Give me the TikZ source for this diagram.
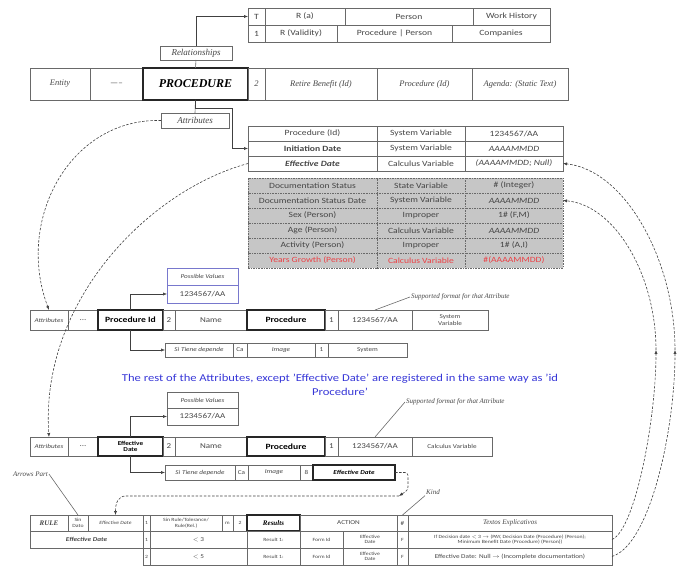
\documentclass[tikz,border=0pt]{standalone}
\usepackage{fontspec}
\setmainfont{Carlito}[FakeStretch=1.2]
\newfontfamily\serifface{Liberation Serif}
\usetikzlibrary{arrows.meta, positioning, calc}
\definecolor{linegray}{RGB}{105,105,105}
\definecolor{textgray}{RGB}{70,70,70}
\definecolor{cellgray}{RGB}{198,198,198}
\definecolor{pvblue}{RGB}{120,120,205}
\definecolor{noteblue}{RGB}{55,55,215}
\definecolor{warnred}{RGB}{235,65,70}
\newcommand\cellfont{\fontsize{7.5}{8.5}\selectfont}
\newcommand\tabfont{\fontsize{8}{9}\selectfont}
\newcommand\smallfont{\fontsize{6}{6.5}\selectfont}
\newcommand\tinyfont{\fontsize{4.8}{5.4}\selectfont}
\newcommand\tagfont{\serifface\itshape\fontsize{9}{10}\selectfont}
\tikzset{
	cell/.style={rectangle, draw=linegray, line width=0.6pt, fill=white, inner sep=0.5pt, outer sep=0pt, align=center, font=\cellfont, text=textgray, minimum height=#1},
	cell/.default=15pt,
	keycell/.style={cell=#1, draw=black!85, line width=1.2pt, text=black},
	keycell/.default=15pt,
	gcell/.style={cell=#1, fill=cellgray, dash pattern=on 1.6pt off 1pt, font=\tabfont},
	gcell/.default=15pt,
	tcell/.style={cell=#1, font=\tabfont},
	tcell/.default=15pt,
	tag/.style={cell=#1, font=\tagfont},
	tag/.default=15pt,
	pvbox/.style={cell=#1, draw=pvblue},
	pvbox/.default=17pt,
	note/.style={font=\serifface\itshape\fontsize{7}{8}\selectfont, text=textgray, inner sep=1pt},
	link/.style={-{Latex[length=4pt, width=3.2pt]}, line width=0.6pt, draw=black!75},
	dashlink/.style={link, dash pattern=on 2.5pt off 1.6pt},
}
\begin{document}
\begin{tikzpicture}[x=1pt, y=-1pt]
	\useasboundingbox (0,0) rectangle (678,572);
	% relationships
	\node[tcell=17pt, minimum width=17pt] (relT) at (256.5,16.5) {T};
	\node[tcell=17pt, minimum width=80pt, right=0pt of relT] (relRa) {R (a)};
	\node[tcell=17pt, minimum width=128pt, right=0pt of relRa] (relPerson) {Person};
	\node[tcell=17pt, minimum width=77pt, right=0pt of relPerson] (relWork) {Work History};
	\node[tcell=17pt, minimum width=17pt] (relOne) at (256.5,33.5) {1};
	\node[tcell=17pt, minimum width=72pt, right=0pt of relOne] (relRv) {R (Validity)};
	\node[tcell=17pt, minimum width=115pt, right=0pt of relRv] (relProcPers) {Procedure | Person};
	\node[tcell=17pt, minimum width=98pt, right=0pt of relProcPers] (relComp) {Companies};
	\node[tag=14pt, minimum width=72pt] (relTag) at (196,53) {Relationships};
	% entity row
	\node[cell=32pt, minimum width=60pt, font=\serifface\itshape\fontsize{8.5}{9}\selectfont] (entity) at (60,84) {Entity};
	\node[cell=32pt, minimum width=53pt, right=0pt of entity] (entDots) {-----};
	\node[keycell=32pt, minimum width=105pt, right=0pt of entDots, font=\serifface\bfseries\itshape\fontsize{12}{13}\selectfont] (proc) {PROCEDURE};
	\node[cell=32pt, minimum width=17pt, right=0pt of proc, font=\serifface\itshape\fontsize{8.5}{9}\selectfont] (procTwo) {2};
	\node[cell=32pt, minimum width=112pt, right=0pt of procTwo, font=\serifface\itshape\fontsize{8.5}{9}\selectfont] (procRetire) {Retire Benefit (Id)};
	\node[cell=32pt, minimum width=95pt, right=0pt of procRetire, font=\serifface\itshape\fontsize{8.5}{9}\selectfont] (procId) {Procedure (Id)};
	\node[cell=32pt, minimum width=96pt, right=0pt of procId, font=\serifface\itshape\fontsize{8.5}{9}\selectfont] (procAgenda) {Agenda: (Static Text)};
	\node[tag=15pt, minimum width=68pt] (attrTag) at (195,120.5) {Attributes};
	\coordinate (attrBend) at (232,108);
	\draw[linegray, line width=0.6pt] (proc.north) -- (relTag.south);
	\draw[link] (relTag.north) |- (relT.west);
	\draw[linegray, line width=0.6pt] (proc.south) -- (attrTag.north);
	% attribute list
	\node[tcell, minimum width=129pt] (avId) at (312.5,133.5) {Procedure (Id)};
	\node[tcell, minimum width=88pt, right=0pt of avId] (avIdKind) {System Variable};
	\node[tcell, minimum width=98pt, right=0pt of avIdKind] (avIdFmt) {1234567/AA};
	\node[tcell, minimum width=129pt, font=\tabfont\bfseries] (avIni) at (312.5,148.5) {Initiation Date};
	\node[tcell, minimum width=88pt, right=0pt of avIni] (avIniKind) {System Variable};
	\node[tcell, minimum width=98pt, right=0pt of avIniKind, font=\tabfont\itshape] (avIniFmt) {AAAAMMDD};
	\node[tcell, minimum width=129pt, font=\tabfont\bfseries\itshape] (avEff) at (312.5,163.5) {Effective Date};
	\node[tcell, minimum width=88pt, right=0pt of avEff] (avEffKind) {Calculus Variable};
	\node[tcell, minimum width=98pt, right=0pt of avEffKind, font=\tabfont\itshape] (avEffFmt) {(AAAAMMDD; Null)};
	\draw[link] (proc.south) |- (attrBend) |- (avIni.west);
	\node[gcell, minimum width=129pt] (gSt) at (312.5,185.5) {Documentation Status};
	\node[gcell, minimum width=88pt, right=0pt of gSt] (gStKind) {State Variable};
	\node[gcell, minimum width=98pt, right=0pt of gStKind] (gStFmt) {\# (Integer)};
	\node[gcell, minimum width=129pt] (gStDate) at (312.5,200.5) {Documentation Status Date};
	\node[gcell, minimum width=88pt, right=0pt of gStDate] (gStDateKind) {System Variable};
	\node[gcell, minimum width=98pt, right=0pt of gStDateKind, font=\tabfont\itshape] (gStDateFmt) {AAAAMMDD};
	\node[gcell, minimum width=129pt] (gSex) at (312.5,215.5) {Sex (Person)};
	\node[gcell, minimum width=88pt, right=0pt of gSex] (gSexKind) {Improper};
	\node[gcell, minimum width=98pt, right=0pt of gSexKind] (gSexFmt) {1\# (F,M)};
	\node[gcell, minimum width=129pt] (gAge) at (312.5,230.5) {Age (Person)};
	\node[gcell, minimum width=88pt, right=0pt of gAge] (gAgeKind) {Calculus Variable};
	\node[gcell, minimum width=98pt, right=0pt of gAgeKind, font=\tabfont\itshape] (gAgeFmt) {AAAAMMDD};
	\node[gcell, minimum width=129pt] (gAct) at (312.5,245.5) {Activity (Person)};
	\node[gcell, minimum width=88pt, right=0pt of gAct] (gActKind) {Improper};
	\node[gcell, minimum width=98pt, right=0pt of gActKind] (gActFmt) {1\# (A,I)};
	\node[gcell, minimum width=129pt, text=warnred] (gYears) at (312.5,260.5) {Years Growth (Person)};
	\node[gcell, minimum width=88pt, right=0pt of gYears, text=warnred] (gYearsKind) {Calculus Variable};
	\node[gcell, minimum width=98pt, right=0pt of gYearsKind, text=warnred] (gYearsFmt) {\#(AAAAMMDD)};
	% procedure id attribute
	\node[cell=20pt, minimum width=38pt, font=\smallfont\itshape] (pidAttr) at (49,320) {Attributes};
	\node[cell=20pt, minimum width=30pt, right=0pt of pidAttr] (pidDots) {...};
	\node[keycell=20pt, minimum width=65pt, right=0pt of pidDots, font=\tabfont\bfseries] (pidKey) {Procedure Id};
	\node[cell=20pt, minimum width=12pt, right=0pt of pidKey] (pidTwo) {2};
	\node[cell=20pt, minimum width=72pt, right=0pt of pidTwo] (pidName) {Name};
	\node[keycell=20pt, minimum width=78pt, right=0pt of pidName, font=\tabfont\bfseries] (pidProc) {Procedure};
	\node[cell=20pt, minimum width=13pt, right=0pt of pidProc] (pidOne) {1};
	\node[cell=20pt, minimum width=74pt, right=0pt of pidOne] (pidFmt) {1234567/AA};
	\node[cell=20pt, minimum width=76pt, right=0pt of pidFmt, font=\smallfont] (pidKind) {System\\Variable};
	\node[pvbox=17pt, minimum width=71pt, font=\smallfont\itshape] (pidPvHead) at (202.5,276.5) {Possible Values};
	\node[pvbox=18pt, minimum width=71pt, below=0pt of pidPvHead] (pidPv) {1234567/AA};
	\node[cell=14pt, minimum width=68pt, font=\smallfont\itshape] (pidDep) at (199,350) {Si Tiene depende};
	\node[cell=14pt, minimum width=14pt, right=0pt of pidDep, font=\smallfont] (pidCa) {Ca};
	\node[cell=14pt, minimum width=68pt, right=0pt of pidCa, font=\smallfont\itshape] (pidImg) {Image};
	\node[cell=14pt, minimum width=13pt, right=0pt of pidImg, font=\smallfont] (pidNum) {1};
	\node[cell=14pt, minimum width=79pt, right=0pt of pidNum, font=\smallfont] (pidSys) {System};
	\node[note, anchor=west] (pidFmtNote) at (410,297) {Supported format for that Attribute};
	\draw[link] (pidKey.north) |- (pidPv.west);
	\draw[link] (pidKey.south) |- (pidDep.west);
	\draw[linegray, line width=0.6pt] (pidFmt.north) -- (pidFmtNote.west);
	\node[text=noteblue, font=\fontsize{10.5}{14}\selectfont, align=center] (restNote) at (340,385) {The rest of the Attributes, except 'Effective Date' are registered in the same way as 'id\\Procedure'};
	% effective date attribute
	\node[cell=19pt, minimum width=38pt, font=\smallfont\itshape] (edAttr) at (49,446.5) {Attributes};
	\node[cell=19pt, minimum width=30pt, right=0pt of edAttr] (edDots) {...};
	\node[keycell=19pt, minimum width=65pt, right=0pt of edDots, font=\smallfont\bfseries] (edKey) {Effective\\Date};
	\node[cell=19pt, minimum width=12pt, right=0pt of edKey] (edTwo) {2};
	\node[cell=19pt, minimum width=72pt, right=0pt of edTwo] (edName) {Name};
	\node[keycell=19pt, minimum width=78pt, right=0pt of edName, font=\tabfont\bfseries] (edProc) {Procedure};
	\node[cell=19pt, minimum width=13pt, right=0pt of edProc] (edOne) {1};
	\node[cell=19pt, minimum width=74pt, right=0pt of edOne] (edFmt) {1234567/AA};
	\node[cell=19pt, minimum width=80pt, right=0pt of edFmt, font=\smallfont] (edKind) {Calculus Variable};
	\node[cell=16pt, minimum width=71pt, font=\smallfont\itshape] (edPvHead) at (202.5,400) {Possible Values};
	\node[cell=17pt, minimum width=71pt, below=0pt of edPvHead] (edPv) {1234567/AA};
	\node[cell=15pt, minimum width=70pt, font=\smallfont\itshape] (edDep) at (200,472.5) {Si Tiene depende};
	\node[cell=15pt, minimum width=13pt, right=0pt of edDep, font=\smallfont] (edCa) {Ca};
	\node[cell=15pt, minimum width=52pt, right=0pt of edCa, font=\smallfont\itshape] (edImg) {Image};
	\node[cell=15pt, minimum width=13pt, right=0pt of edImg, font=\smallfont] (edNum) {8};
	\node[keycell=15pt, minimum width=82pt, right=0pt of edNum, font=\smallfont\bfseries\itshape] (edEffBox) {Effective Date};
	\node[note, anchor=west] (edFmtNote) at (405,402) {Supported format for that Attribute};
	\draw[link] (edKey.north) |- (edPv.west);
	\draw[link] (edKey.south) |- (edDep.west);
	\draw[linegray, line width=0.6pt] (edFmt.north) -- (edFmtNote.west);
	% attribute links
	\draw[dashlink] (attrTag.west) .. controls (70,118) and (15,220) .. (pidAttr.north);
	\draw[dashlink] (avEff.west) .. controls (150,190) and (40,300) .. (edAttr.north);
	% rule table
	\node[cell=16pt, minimum width=38pt, font=\serifface\bfseries\itshape\fontsize{7}{8}\selectfont] (ruleTag) at (49,523) {RULE};
	\node[cell=16pt, minimum width=20pt, right=0pt of ruleTag, font=\tinyfont] (ruleNoData) {Sin\\Dato};
	\node[cell=16pt, minimum width=55pt, right=0pt of ruleNoData, font=\tinyfont\itshape] (ruleEff) {Effective Date};
	\node[cell=16pt, minimum width=7pt, right=0pt of ruleEff, font=\tinyfont] (ruleOne) {1};
	\node[cell=16pt, minimum width=72pt, right=0pt of ruleOne, font=\tinyfont] (ruleTol) {Sin Rule/Tolerance/\\Rule(Rel.)};
	\node[cell=16pt, minimum width=11pt, right=0pt of ruleTol, font=\tinyfont] (ruleM) {m};
	\node[cell=16pt, minimum width=14pt, right=0pt of ruleM, font=\tinyfont] (ruleTwo) {2};
	\node[keycell=16pt, minimum width=53pt, right=0pt of ruleTwo, font=\serifface\bfseries\itshape\fontsize{7}{8}\selectfont] (ruleRes) {Results};
	\node[cell=16pt, minimum width=97pt, right=0pt of ruleRes, font=\smallfont] (ruleAct) {ACTION};
	\node[cell=16pt, minimum width=11pt, right=0pt of ruleAct, font=\smallfont] (ruleHash) {\#};
	\node[cell=16pt, minimum width=204pt, right=0pt of ruleHash, font=\serifface\itshape\fontsize{7}{8}\selectfont] (ruleText) {Textos Explicativos};
	\node[cell=17pt, minimum width=113pt, font=\smallfont\bfseries\itshape] (rowOneEff) at (86.5,539.5) {Effective Date};
	\node[cell=17pt, minimum width=7pt, right=0pt of rowOneEff, font=\tinyfont] (rowOneNum) {1};
	\node[cell=17pt, minimum width=97pt, right=0pt of rowOneNum, font=\smallfont] (rowOneCond) {$<$ 3};
	\node[cell=17pt, minimum width=53pt, right=0pt of rowOneCond, font=\tinyfont] (rowOneRes) {Result 1:};
	\node[cell=17pt, minimum width=43pt, right=0pt of rowOneRes, font=\tinyfont] (rowOneForm) {Form Id};
	\node[cell=17pt, minimum width=54pt, right=0pt of rowOneForm, font=\tinyfont] (rowOneDate) {Effective\\Date};
	\node[cell=17pt, minimum width=11pt, right=0pt of rowOneDate, font=\tinyfont] (rowOneKind) {F};
	\node[cell=17pt, minimum width=204pt, right=0pt of rowOneKind, font=\tinyfont] (rowOneText) {If Decision date $<$ 3 $\rightarrow$ (PAY, Decision Date (Procedure) (Person);\\Minimum Benefit Date (Procedure) (Person))};
	\node[cell=17pt, minimum width=7pt, font=\tinyfont] (rowTwoNum) at (146.5,556.5) {2};
	\node[cell=17pt, minimum width=97pt, right=0pt of rowTwoNum, font=\smallfont] (rowTwoCond) {$<$ 5};
	\node[cell=17pt, minimum width=53pt, right=0pt of rowTwoCond, font=\tinyfont] (rowTwoRes) {Result 1:};
	\node[cell=17pt, minimum width=43pt, right=0pt of rowTwoRes, font=\tinyfont] (rowTwoForm) {Form Id};
	\node[cell=17pt, minimum width=54pt, right=0pt of rowTwoForm, font=\tinyfont] (rowTwoDate) {Effective\\Date};
	\node[cell=17pt, minimum width=11pt, right=0pt of rowTwoDate, font=\tinyfont] (rowTwoKind) {F};
	\node[cell=17pt, minimum width=204pt, right=0pt of rowTwoKind, font=\smallfont] (rowTwoText) {Effective Date: Null $\rightarrow$ (Incomplete documentation)};
	\node[note, anchor=west] (arrowsNote) at (12,474) {Arrows Part};
	\node[note, anchor=west] (kindNote) at (425,492) {Kind};
	\draw[linegray, line width=0.6pt] (arrowsNote.east) -- (ruleNoData.north);
	\draw[linegray, line width=0.6pt] (ruleHash.north) -- (kindNote.south west);
	% effective date to rule
	\coordinate (edTurn) at (399,496);
	\draw[dashlink, rounded corners=3pt] (edEffBox.east) -| (408,490) -- (edTurn);
	\draw[dashlink] (edTurn) -- (126,496) .. controls (118,496) and (115.5,503) .. (ruleEff.north);
	% results back to attributes
	\coordinate (backA) at (675,350);
	\coordinate (backB) at (656,350);
	\draw[dashlink] (rowTwoText.east) .. controls (650,545) and (675,430) .. (backA);
	\draw[dashlink] (backA) .. controls (675,260) and (625,170) .. (avEffFmt.east);
	\draw[dashlink] (rowOneText.east) .. controls (635,530) and (656,420) .. (backB);
	\draw[dashlink] (backB) .. controls (656,275) and (615,205) .. (gStDateFmt.east);
\end{tikzpicture}
\end{document}
